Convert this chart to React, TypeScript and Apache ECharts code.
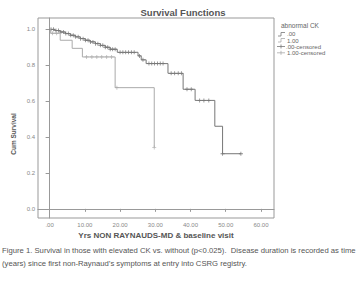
import React, { useEffect, useRef } from "react";
import * as echarts from "echarts";

// Kaplan-Meier step points [years, cumulative survival]
const groupNormal: [number, number][] = [
  [0, 1.0], [1.5, 0.993], [3.0, 0.985], [4.5, 0.976], [5.9, 0.967], [7.3, 0.958],
  [8.7, 0.948], [10.1, 0.939], [11.5, 0.93], [13.0, 0.92], [14.4, 0.911], [15.8, 0.9],
  [17.2, 0.889], [19.2, 0.872], [25.1, 0.852], [26.0, 0.83], [27.4, 0.809],
  [33.6, 0.755], [37.9, 0.666], [41.3, 0.604], [46.9, 0.46], [49.1, 0.307], [54.3, 0.307],
];
const groupElevated: [number, number][] = [
  [0, 1.0], [0.3, 0.978], [3.0, 0.939], [6.4, 0.894], [9.3, 0.846], [18.6, 0.675], [29.7, 0.341],
];
// censoring times (years)
const censorNormal = [
  0.4, 1.1, 1.8, 2.5, 3.2, 3.9, 4.6, 5.3, 6.0, 6.7, 7.4, 8.1, 8.8, 9.5, 10.2, 10.9, 11.6,
  12.3, 13.0, 13.7, 14.4, 15.1, 15.8, 16.5, 17.2, 17.9, 18.6, 20.0, 20.8, 21.6, 22.4, 23.2,
  24.0, 25.5, 26.5, 28.2, 29.0, 29.8, 30.6, 31.4, 32.2, 34.5, 35.5, 36.5, 37.4, 39.0, 40.2,
  42.6, 43.8, 45.2, 49.1, 54.3,
];
const censorElevated = [0.8, 2.0, 10.5, 12.0, 13.4, 14.8, 16.2, 17.6, 19.1, 29.7];

const xTicks = [0, 10, 20, 30, 40, 50, 60];
const yTicks = [0, 0.2, 0.4, 0.6, 0.8, 1.0];
const legendLabels = [".00", "1.00", ".00-censored", "1.00-censored"];

const stepAt = (curve: [number, number][], t: number) => {
  let s = curve[0][1];
  for (const [x, y] of curve) if (x <= t) s = y;
  return s;
};

const plusSymbol =
  "path://M-0.2,-1H0.2V-0.2H1V0.2H0.2V1H-0.2V0.2H-1V-0.2H-0.2Z";

export default function App() {
  const ref = useRef<HTMLDivElement>(null);
  useEffect(() => {
    document.body.style.margin = "0";
    const chart = echarts.init(ref.current!, undefined, { renderer: "svg" });
    const font = "Liberation Sans, Arial, sans-serif";
    const txtCol = "#666";
    chart.setOption({
      animation: false,
      backgroundColor: "#fff",
      textStyle: { fontFamily: font },
      grid: {
        left: 38, top: 18, right: 85, bottom: 65,
        show: true, borderColor: "#999", borderWidth: 1,
        outerBoundsMode: "none",
      },
      xAxis: {
        type: "value", min: -3.3, max: 63.7,
        axisLine: { show: true, lineStyle: { color: "#999" } },
        axisTick: { show: true, customValues: xTicks, length: 3, lineStyle: { color: "#999" } },
        axisLabel: {
          customValues: xTicks, fontSize: 6, color: "#888", margin: 4,
          formatter: (v: number) => (v === 0 ? ".00" : v.toFixed(2)),
        },
        splitLine: { show: false },
      },
      yAxis: {
        type: "value", min: -0.051, max: 1.063,
        axisLine: { show: true, lineStyle: { color: "#999" } },
        axisTick: { show: true, customValues: yTicks, length: 4, lineStyle: { color: "#999" } },
        axisLabel: {
          customValues: yTicks, fontSize: 6, color: "#888", margin: 3,
          formatter: (v: number) => v.toFixed(1),
        },
        splitLine: { show: false },
      },
      series: [
        {
          name: ".00", type: "line", step: "end", data: groupNormal, showSymbol: false,
          lineStyle: { color: "#777", width: 1 },
        },
        {
          name: "1.00", type: "line", step: "end", data: groupElevated, showSymbol: false,
          lineStyle: { color: "#aaa", width: 1 },
        },
        {
          name: ".00-censored", type: "scatter", symbol: plusSymbol, symbolSize: 4,
          data: censorNormal.map((t) => [t, stepAt(groupNormal, t)]),
          itemStyle: { color: "#666" },
        },
        {
          name: "1.00-censored", type: "scatter", symbol: plusSymbol, symbolSize: 4,
          data: censorElevated.map((t) => [t, stepAt(groupElevated, t)]),
          itemStyle: { color: "#aaa" },
        },
      ],
      graphic: [
        {
          type: "text", x: 183, y: 12.5,
          style: { text: "Survival Functions", font: `bold 9.5px ${font}`, fill: "#555", align: "center", verticalAlign: "middle" },
        },
        {
          type: "text", x: 156, y: 235,
          style: { text: "Yrs NON RAYNAUDS-MD & baseline visit", font: `bold 8px ${font}`, fill: "#555", align: "center", verticalAlign: "middle" },
        },
        {
          type: "text", x: 13, y: 134, rotation: Math.PI / 2,
          style: { text: "Cum Survival", font: `bold 6.5px ${font}`, fill: "#555", align: "center", verticalAlign: "middle" },
        },
        {
          type: "text", x: 281, y: 25.7,
          style: { text: "abnormal CK", font: `6.5px ${font}`, fill: txtCol, verticalAlign: "middle" },
        },
        { type: "polyline", shape: { points: [[278, 36], [281, 36], [281, 32.5], [285, 32.5]] }, style: { stroke: "#777", lineWidth: 0.8, fill: null } },
        { type: "text", x: 287, y: 34.3, style: { text: legendLabels[0], font: `6px ${font}`, fill: txtCol, verticalAlign: "middle" } },
        { type: "polyline", shape: { points: [[278, 42], [281, 42], [281, 38.5], [285, 38.5]] }, style: { stroke: "#aaa", lineWidth: 0.8, fill: null } },
        { type: "text", x: 287, y: 40.5, style: { text: legendLabels[1], font: `6px ${font}`, fill: txtCol, verticalAlign: "middle" } },
        { type: "line", shape: { x1: 277, y1: 46.5, x2: 285, y2: 46.5 }, style: { stroke: "#777", lineWidth: 0.8 } },
        { type: "line", shape: { x1: 281, y1: 44.5, x2: 281, y2: 48.5 }, style: { stroke: "#777", lineWidth: 0.8 } },
        { type: "text", x: 286, y: 46.7, style: { text: legendLabels[2], font: `6px ${font}`, fill: txtCol, verticalAlign: "middle" } },
        { type: "line", shape: { x1: 277, y1: 52.8, x2: 285, y2: 52.8 }, style: { stroke: "#aaa", lineWidth: 0.8 } },
        { type: "line", shape: { x1: 281, y1: 50.8, x2: 281, y2: 54.8 }, style: { stroke: "#aaa", lineWidth: 0.8 } },
        { type: "text", x: 287, y: 53, style: { text: legendLabels[3], font: `6px ${font}`, fill: txtCol, verticalAlign: "middle" } },
        {
          type: "text", x: 2, y: 250,
          style: { text: "Figure 1. Survival in those with elevated CK vs. without (p<0.025).  Disease duration is recorded as time", font: `7.7px ${font}`, fill: "#555", verticalAlign: "middle" },
        },
        {
          type: "text", x: 2, y: 263,
          style: { text: "(years) since first non-Raynaud\u2019s symptoms at entry into CSRG registry.", font: `7.7px ${font}`, fill: "#555", verticalAlign: "middle" },
        },
      ],
    });
    return () => chart.dispose();
  }, []);
  return <div ref={ref} style={{ position: "absolute", left: 0, top: 0, width: 359, height: 283 }} />;
}
